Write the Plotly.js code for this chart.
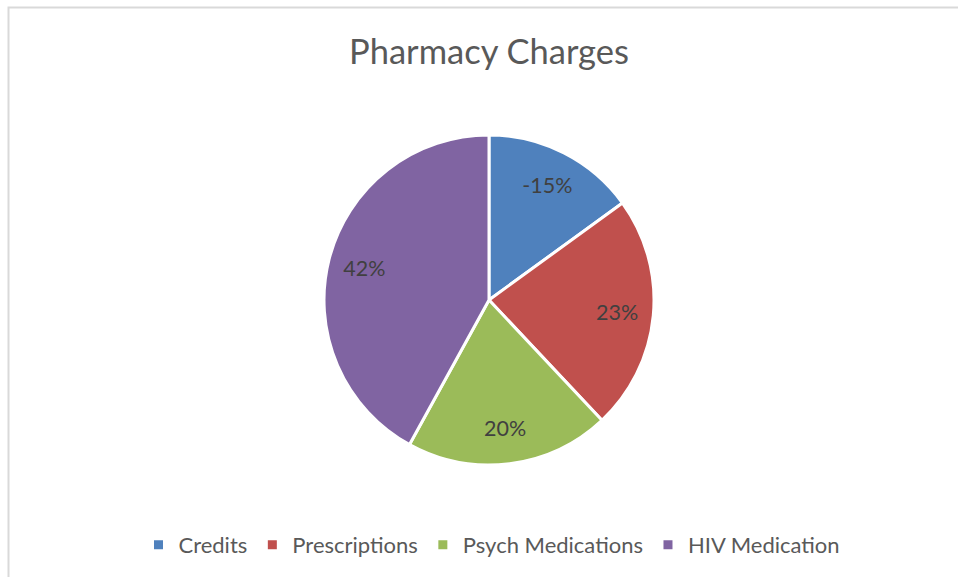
<!DOCTYPE html>
<html>
<head>
<meta charset="utf-8">
<script src="https://cdn.plot.ly/plotly-3.0.1.min.js"></script>
<style>
  html, body { margin: 0; padding: 0; background: #ffffff; }
  #chart { width: 958px; height: 577px; }
</style>
</head>
<body>
<div id="chart"></div>
<script>
const categories = ['Credits', 'Prescriptions', 'Psych Medications', 'HIV Medication'];
const values = [15, 23, 20, 42];
const labelText = ['-15%', '23%', '20%', '42%'];
const colors = ['#4F81BD', '#C0504D', '#9BBB59', '#8064A2'];

const W = 958, H = 577;
const cx = 489, cy = 300, r = 165;
const pieDomain = {
  x: [(cx - r) / W, (cx + r) / W],
  y: [(H - cy - r) / H, (H - cy + r) / H]
};

// Slices
const slices = {
  type: 'pie',
  labels: categories,
  values: values,
  textinfo: 'none',
  sort: false,
  direction: 'clockwise',
  rotation: 0,
  marker: { colors: colors, line: { color: '#ffffff', width: 3 } },
  hoverinfo: 'label+value',
  domain: pieDomain
};

// Transparent ring that only carries the data labels (placed in the outer part of the pie)
const labelRing = {
  type: 'pie',
  labels: categories,
  values: values,
  text: labelText,
  textinfo: 'text',
  textposition: 'inside',
  insidetextorientation: 'horizontal',
  sort: false,
  direction: 'clockwise',
  rotation: 0,
  hole: 0.56,
  showlegend: false,
  marker: { colors: ['rgba(0,0,0,0)', 'rgba(0,0,0,0)', 'rgba(0,0,0,0)', 'rgba(0,0,0,0)'], line: { width: 0 } },
  textfont: { family: 'Lato, sans-serif', size: 21.5, color: '#404040' },
  hoverinfo: 'skip',
  domain: pieDomain
};

const layout = {
  width: W,
  height: H,
  margin: { l: 0, r: 0, t: 0, b: 0 },
  paper_bgcolor: '#ffffff',
  showlegend: true,
  title: {
    text: 'Pharmacy Charges',
    font: { family: 'Lato, sans-serif', size: 34.5, color: '#595959' },
    x: 489 / W,
    xanchor: 'center',
    y: 1 - 52 / H,
    yanchor: 'middle'
  },
  legend: {
    orientation: 'h',
    x: 492 / W,
    xanchor: 'center',
    y: 1 - 545 / H,
    yanchor: 'middle',
    font: { family: 'Lato, sans-serif', size: 22, color: '#595959' },
    traceorder: 'normal'
  },
  shapes: [{
    type: 'rect',
    xref: 'paper', yref: 'paper',
    x0: 8.5 / W, x1: 1.02,
    y0: -0.02, y1: 1 - 7.5 / H,
    line: { color: '#d9d9d9', width: 2 },
    fillcolor: 'rgba(0,0,0,0)'
  }]
};

Plotly.newPlot('chart', [slices, labelRing], layout, { displayModeBar: false, staticPlot: true });
</script>
</body>
</html>
